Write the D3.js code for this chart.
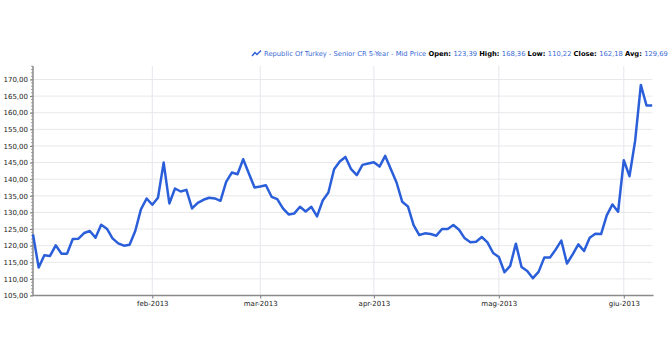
<!DOCTYPE html>
<html>
<head>
<meta charset="utf-8">
<script src="https://cdn.jsdelivr.net/npm/d3@7"></script>
<style>
  body { margin: 0; background: #fff; }
  text { font-family: "DejaVu Sans", Verdana, sans-serif; }
</style>
</head>
<body>
<div id="canvas"></div>
<script>
"use strict"

/* Chart data: one mid price per trading day */
let prices = [
    123.39, 113.4, 117.1, 116.9, 120.1, 117.6, 117.6, 122.0, 122.1, 123.8,
    124.4, 122.4, 126.3, 125.1, 122.2, 120.7, 120.0, 120.3, 124.4, 130.9,
    134.2, 132.3, 134.4, 145.0, 132.7, 137.2, 136.3, 136.8, 131.2, 132.9,
    133.8, 134.4, 134.2, 133.5, 139.2, 142.0, 141.5, 146.0, 141.7, 137.5,
    137.8, 138.2, 134.7, 134.0, 131.2, 129.4, 129.7, 131.7, 130.3, 131.7,
    128.8, 133.6, 136.0, 143.0, 145.3, 146.7, 143.0, 141.2, 144.3, 144.7,
    145.1, 143.8, 147.0, 143.0, 139.0, 133.2, 131.8, 126.2, 123.2, 123.7,
    123.5, 123.0, 125.0, 125.0, 126.2, 124.8, 122.2, 121.0, 121.2, 122.6,
    121.0, 117.8, 116.6, 112.0, 113.9, 120.6, 113.6, 112.4, 110.22, 112.1,
    116.4, 116.4, 118.8, 121.5, 114.6, 117.4, 120.4, 118.4, 122.4, 123.6,
    123.5, 129.1, 132.4, 130.2, 145.7, 140.9, 151.6, 168.36, 162.18, 162.18
];

/* X axis: first trading day of each month and its label */
let monthIndex = [21, 40, 60, 82, 104];
let monthLabels = ["feb-2013", "mar-2013", "apr-2013", "mag-2013", "giu-2013"];

/* Y axis tick values */
let yTickValues = [105, 110, 115, 120, 125, 130, 135, 140, 145, 150, 155, 160, 165, 170];

/* Legend text */
let seriesName = "Republic Of Turkey - Senior CR 5-Year - Mid Price";
let statNames = ["Open:", "High:", "Low:", "Close:", "Avg:"];
let statValues = ["123,39", "168,36", "110,22", "162,18", "129,69"];

/* Configuration variables: drawing */
let svgWidth = 672;
let svgHeight = 351;
let plotLeft = 33;
let plotRight = 652.5;
let plotTop = 66;
let plotBottom = 295.5;
let lineColor = "#2b5fd9";
let textBlue = "#3a6bd4";

let svg = d3.select("#canvas")
    .append("svg")
    .attr("width", svgWidth)
    .attr("height", svgHeight);

/* Scales */
let xScale = d3.scaleLinear()
    .domain([0, prices.length - 1])
    .range([plotLeft, plotRight - 0.3]);

let yScale = d3.scaleLinear()
    .domain([105, 170])
    .range([plotBottom, 79.5]);

let italian = d3.formatLocale({decimal: ",", thousands: ".", grouping: [3], currency: ["", "€"]});
let yFormat = italian.format(".2f");

/* Gridlines */
svg.append("g")
    .selectAll("line")
    .data(yTickValues.slice(1))
    .join("line")
    .attr("x1", plotLeft)
    .attr("x2", plotRight)
    .attr("y1", d => yScale(d))
    .attr("y2", d => yScale(d))
    .attr("stroke", "#e8e8e8")
    .attr("stroke-width", 1);

svg.append("g")
    .selectAll("line")
    .data(monthIndex)
    .join("line")
    .attr("x1", d => xScale(d))
    .attr("x2", d => xScale(d))
    .attr("y1", plotTop)
    .attr("y2", plotBottom)
    .attr("stroke", "#e6e6ee")
    .attr("stroke-width", 1);

/* Y axis with minor ticks */
let yAxis = d3.axisLeft(yScale)
    .tickValues(yTickValues)
    .tickFormat(yFormat)
    .tickSize(3)
    .tickPadding(2);

let yAxisGroup = svg.append("g")
    .attr("transform", "translate(" + plotLeft + ",0)")
    .call(yAxis);

yAxisGroup.select(".domain").remove();
yAxisGroup.selectAll(".tick line").attr("stroke", "#777");
yAxisGroup.selectAll("text")
    .attr("font-size", 7)
    .attr("fill", "#222");

svg.append("g")
    .selectAll("line")
    .data(d3.range(105, 175))
    .join("line")
    .attr("x1", plotLeft - 2)
    .attr("x2", plotLeft)
    .attr("y1", d => yScale(d))
    .attr("y2", d => yScale(d))
    .attr("stroke", "#888")
    .attr("stroke-width", 0.8);

svg.append("line")
    .attr("x1", plotLeft)
    .attr("x2", plotLeft)
    .attr("y1", plotTop)
    .attr("y2", plotBottom)
    .attr("stroke", "#8a8a8a")
    .attr("stroke-width", 1.5);

/* X axis */
let xAxis = d3.axisBottom(xScale)
    .tickValues(monthIndex)
    .tickFormat((d, i) => monthLabels[i])
    .tickSize(3)
    .tickPadding(3);

let xAxisGroup = svg.append("g")
    .attr("transform", "translate(0," + plotBottom + ")")
    .call(xAxis);

xAxisGroup.select(".domain").remove();
xAxisGroup.selectAll(".tick line").attr("stroke", "#777");
xAxisGroup.selectAll("text")
    .attr("font-size", 7)
    .attr("fill", "#222");

svg.append("line")
    .attr("x1", plotLeft)
    .attr("x2", plotRight + 1)
    .attr("y1", plotBottom)
    .attr("y2", plotBottom)
    .attr("stroke", "#8a8a8a")
    .attr("stroke-width", 1.5);

/* Price line */
let line = d3.line()
    .x((d, i) => xScale(i))
    .y(d => yScale(d));

svg.append("path")
    .datum(prices)
    .attr("fill", "none")
    .attr("stroke", lineColor)
    .attr("stroke-width", 2.5)
    .attr("stroke-linejoin", "round")
    .attr("d", line);

/* Legend: icon + series name + statistics */
let legendX = 264;
let legendY = 56;

let icon = d3.line()
    .x(d => d[0])
    .y(d => d[1]);

svg.append("path")
    .datum([[252, 56], [255, 52.5], [257, 54.5], [261, 50.5]])
    .attr("fill", "none")
    .attr("stroke", lineColor)
    .attr("stroke-width", 1.4)
    .attr("d", icon);

let legend = svg.append("text")
    .attr("x", legendX)
    .attr("y", legendY)
    .attr("font-size", 7);

legend.append("tspan")
    .attr("fill", textBlue)
    .text(seriesName + " ");

statNames.forEach(function (name, i) {
    legend.append("tspan")
        .attr("fill", "#000")
        .attr("font-weight", "bold")
        .text(name + " ");
    legend.append("tspan")
        .attr("fill", textBlue)
        .text(statValues[i] + (i < statNames.length - 1 ? " " : ""));
});

// fit legend into the same width as the reference
let legendWidth = legend.node().getComputedTextLength();
legend.attr("font-size", 7 * 404 / legendWidth);
</script>
</body>
</html>
